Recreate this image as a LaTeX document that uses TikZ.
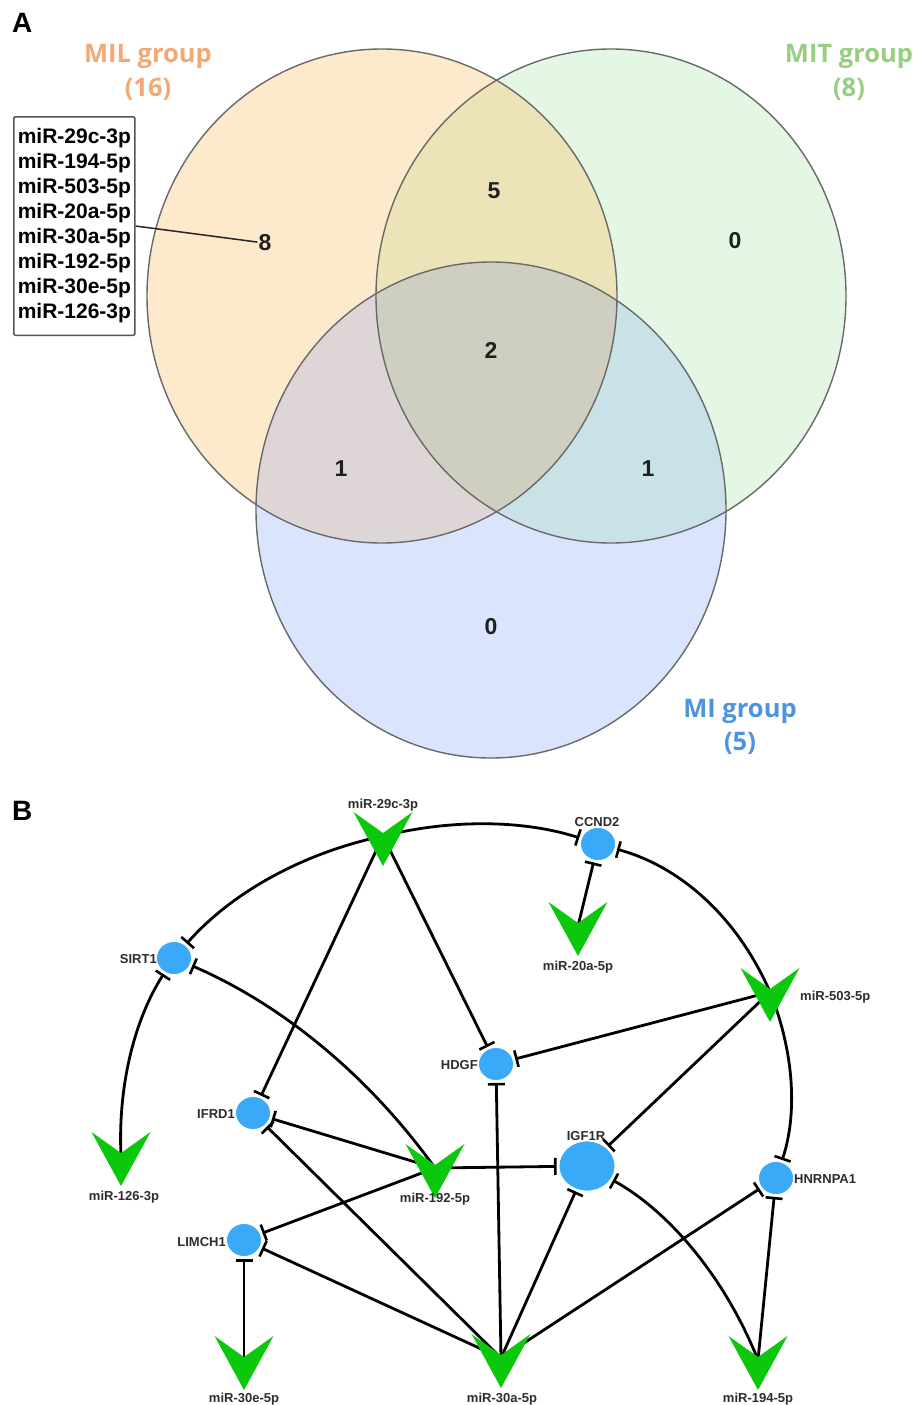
\documentclass[tikz,border=0pt]{standalone}
\usepackage{fontspec}
\setmainfont{Liberation Sans}
\newfontfamily\grpfont{Open Sans}
\usetikzlibrary{arrows.meta,calc,shapes.geometric}

\definecolor{milc}{RGB}{244,168,116}
\definecolor{mitc}{RGB}{152,206,128}
\definecolor{mic}{RGB}{77,148,222}
\definecolor{ofill}{RGB}{253,233,203}
\definecolor{gfill}{RGB}{228,247,228}
\definecolor{bfill}{RGB}{218,228,252}
\definecolor{ogfill}{RGB}{236,228,184}
\definecolor{obfill}{RGB}{222,214,214}
\definecolor{gbfill}{RGB}{200,226,232}
\definecolor{allfill}{RGB}{206,206,193}
\definecolor{vennline}{RGB}{105,105,105}
\definecolor{nodeblue}{RGB}{58,170,248}
\definecolor{vgreen}{RGB}{12,200,12}
\definecolor{labgrey}{RGB}{45,45,45}
\definecolor{boxgrey}{RGB}{85,85,85}

\newcommand\mirV[1]{\fill[vgreen] ($(#1)+(-29.5,-24)$) -- ($(#1)+(0,-3)$) -- ($(#1)+(29.5,-24)$) -- ($(#1)+(0,30)$) -- cycle;}

\tikzset{
 grplabel/.style={font=\grpfont\bfseries\fontsize{25.5}{25.5}\selectfont, inner sep=0pt, anchor=base},
 vnum/.style={font=\bfseries\fontsize{23}{23}\selectfont, text=black!88, inner sep=1pt, anchor=base},
 gene/.style={ellipse, fill=nodeblue, draw=white, line width=0.8pt, minimum width=35pt, minimum height=33pt, inner sep=0pt},
 nlabel/.style={font=\bfseries\fontsize{13}{13}\selectfont, text=labgrey, inner sep=0pt},
 inh/.style={line width=2.8pt, -{Bar[width=17pt, line width=2.6pt]}, shorten >=2pt},
 panel/.style={font=\bfseries\fontsize{28}{28}\selectfont, inner sep=0pt, anchor=base west},
 vennedge/.style={draw=vennline, line width=1.4pt},
}

\begin{document}
\begin{tikzpicture}[x=1pt,y=-1pt]
\useasboundingbox (0,0) rectangle (919,1405);
\fill[white] (0,0) rectangle (919,1405);

% ---------------- Panel A : Venn ----------------
\node[panel] (labA) at (12,33) {A};

\fill[ofill] (382,296) ellipse [x radius=235pt, y radius=247pt];
\fill[gfill] (611,296) ellipse [x radius=235pt, y radius=247pt];
\fill[bfill] (491,510) ellipse [x radius=235pt, y radius=248pt];
\begin{scope}
 \clip (382,296) ellipse [x radius=235pt, y radius=247pt];
 \fill[ogfill] (611,296) ellipse [x radius=235pt, y radius=247pt];
 \fill[obfill] (491,510) ellipse [x radius=235pt, y radius=248pt];
\end{scope}
\begin{scope}
 \clip (611,296) ellipse [x radius=235pt, y radius=247pt];
 \fill[gbfill] (491,510) ellipse [x radius=235pt, y radius=248pt];
\end{scope}
\begin{scope}
 \clip (382,296) ellipse [x radius=235pt, y radius=247pt];
 \clip (611,296) ellipse [x radius=235pt, y radius=247pt];
 \fill[allfill] (491,510) ellipse [x radius=235pt, y radius=248pt];
\end{scope}
\draw[vennedge] (382,296) ellipse [x radius=235pt, y radius=247pt];
\draw[vennedge] (611,296) ellipse [x radius=235pt, y radius=247pt];
\draw[vennedge] (491,510) ellipse [x radius=235pt, y radius=248pt];

\node[grplabel, text=milc] (milA) at (148,63) {MIL group};
\node[grplabel, text=milc] (milB) at (148,96) {(16)};
\node[grplabel, text=mitc] (mitA) at (849,63) {MIT group};
\node[grplabel, text=mitc] (mitB) at (849,96) {(8)};
\node[grplabel, text=mic] (miA) at (740,717) {MI group};
\node[grplabel, text=mic] (miB) at (740,750) {(5)};

\node[vnum] (n8) at (265,250) {8};
\node[vnum] (n5) at (494,198) {5};
\node[vnum] (n0a) at (735,248) {0};
\node[vnum] (n2) at (491,358) {2};
\node[vnum] (n1a) at (341,476) {1};
\node[vnum] (n1b) at (648,476) {1};
\node[vnum] (n0b) at (491,634) {0};

\node[draw=boxgrey, line width=1.5pt, rounded corners=1.5pt, anchor=north west,
      align=left, inner xsep=4pt, inner ysep=12pt,
      font=\bfseries\fontsize{21}{25}\selectfont] (list) at (13,116)
 {miR-29c-3p\\miR-194-5p\\miR-503-5p\\miR-20a-5p\\miR-30a-5p\\miR-192-5p\\miR-30e-5p\\miR-126-3p};
\draw[line width=1.5pt, black!85] (list.east) -- (n8.west);

% ---------------- Panel B : network ----------------
\node[panel] (labB) at (12,820) {B};

\coordinate (m29c) at (383,836);
\coordinate (m20a) at (578,926);
\coordinate (m503) at (770,992);
\coordinate (m126) at (121,1156);
\coordinate (m192) at (435,1168);
\coordinate (m30e) at (244,1360);
\coordinate (m30a) at (501,1358);
\coordinate (m194) at (758,1360);

\node[gene] (ccnd2) at (598,844) {};
\node[gene] (sirt1) at (174,958) {};
\node[gene] (ifrd1) at (253,1113) {};
\node[gene] (hdgf) at (496,1064) {};
\node[gene, minimum width=56pt, minimum height=50pt] (igf1r) at (587,1166) {};
\node[gene] (hnrnpa1) at (776,1178) {};
\node[gene] (limch1) at (244,1240) {};

% curved edges
\draw[inh] (m29c) .. controls ($(m29c)!0.333!(ccnd2)+(0.7,-20.5)$) and ($(m29c)!0.667!(ccnd2)+(0.7,-20.5)$) .. (ccnd2);
\draw[inh] (m29c) .. controls ($(m29c)!0.333!(sirt1)+(-13.5,-23)$) and ($(m29c)!0.667!(sirt1)+(-13.5,-23)$) .. (sirt1);
\draw[inh] (m503) .. controls ($(m503)!0.333!(ccnd2)+(24,-27)$) and ($(m503)!0.667!(ccnd2)+(24,-27)$) .. (ccnd2);
\draw[inh] (m503) .. controls ($(m503)!0.333!(hnrnpa1)+(23,0)$) and ($(m503)!0.667!(hnrnpa1)+(23,0)$) .. (hnrnpa1);
\draw[inh] (m126) .. controls ($(m126)!0.333!(sirt1)+(-21,-6)$) and ($(m126)!0.667!(sirt1)+(-21,-6)$) .. (sirt1);
\draw[inh] (m192) .. controls ($(m192)!0.333!(sirt1)+(19.5,-24)$) and ($(m192)!0.667!(sirt1)+(19.5,-24)$) .. (sirt1);
\draw[inh] (m194) .. controls ($(m194)!0.333!(igf1r)+(23,-20.5)$) and ($(m194)!0.667!(igf1r)+(23,-20.5)$) .. (igf1r);

% straight edges
\draw[inh] (m29c) -- (ifrd1);
\draw[inh] (m29c) -- (hdgf);
\draw[inh] (m20a) -- (ccnd2);
\draw[inh] (m503) -- (hdgf);
\draw[inh] (m503) -- (igf1r);
\draw[inh] (m192) -- (ifrd1);
\draw[inh] (m30a) -- (ifrd1);
\draw[inh] (m30a) -- (hdgf);
\draw[inh] (m192) -- (igf1r);
\draw[inh] (m192) -- (limch1);
\draw[inh] (m30e) -- (limch1);
\draw[inh] (m30a) -- (limch1);
\draw[inh] (m30a) -- (igf1r);
\draw[inh] (m30a) -- (hnrnpa1);
\draw[inh] (m194) -- (hnrnpa1);

% miRNA chevrons
\mirV{m29c}
\mirV{m20a}
\mirV{m503}
\mirV{m126}
\mirV{m192}
\mirV{m30e}
\mirV{m30a}
\mirV{m194}

% labels
\node[nlabel, anchor=base] (l29c) at (383,808) {miR-29c-3p};
\node[nlabel, anchor=base] (l20a) at (578,970) {miR-20a-5p};
\node[nlabel, anchor=base west] (l503) at (800,1000) {miR-503-5p};
\node[nlabel, anchor=base] (l126) at (124,1200) {miR-126-3p};
\node[nlabel, anchor=base] (l192) at (435,1202) {miR-192-5p};
\node[nlabel, anchor=base] (l30e) at (244,1402) {miR-30e-5p};
\node[nlabel, anchor=base] (l30a) at (502,1402) {miR-30a-5p};
\node[nlabel, anchor=base] (l194) at (758,1402) {miR-194-5p};

\node[nlabel, anchor=base] (lccnd2) at (597,826) {CCND2};
\node[nlabel, anchor=base east] (lsirt1) at (157,963) {SIRT1};
\node[nlabel, anchor=base east] (lifrd1) at (235,1118) {IFRD1};
\node[nlabel, anchor=base east] (lhdgf) at (478,1069) {HDGF};
\node[nlabel, anchor=base] (ligf1r) at (586,1140) {IGF1R};
\node[nlabel, anchor=base west] (lhnrnpa1) at (794,1183) {HNRNPA1};
\node[nlabel, anchor=base east] (llimch1) at (226,1246) {LIMCH1};
\end{tikzpicture}
\end{document}
